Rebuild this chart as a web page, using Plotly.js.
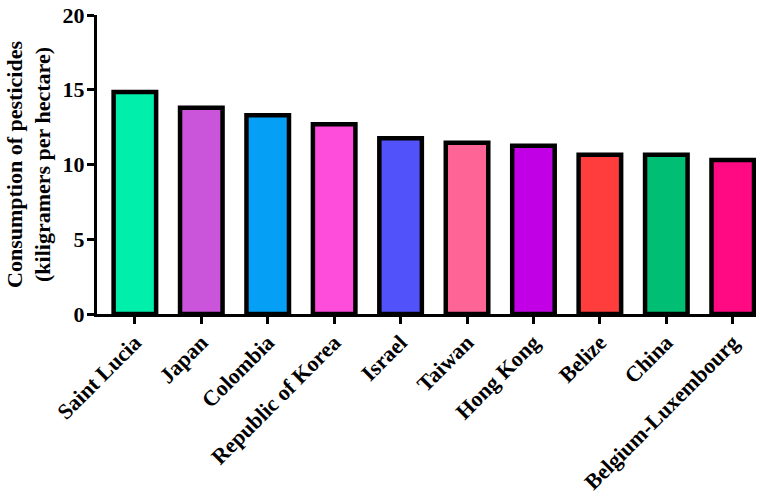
<!DOCTYPE html>
<html>
<head>
<meta charset="utf-8">
<script src="https://cdn.plot.ly/plotly-3.0.1.min.js"></script>
<style>
  html, body { margin: 0; padding: 0; background: #fff; }
  #chart { width: 776px; height: 498px; }
</style>
</head>
<body>
<div id="chart"></div>
<script>
const countries = [
  "Saint Lucia", "Japan", "Colombia", "Republic of Korea", "Israel",
  "Taiwan", "Hong Kong", "Belize", "China", "Belgium-Luxembourg",
];
const consumption = [14.85, 13.8, 13.3, 12.7, 11.75, 11.45, 11.25, 10.65, 10.65, 10.3];
const barColors = [
  "#00EFAA", "#CA55DA", "#05A0F6", "#FF4DDB", "#5252FA",
  "#FF6496", "#C100E6", "#FF3D3D", "#00BE73", "#FF0A82",
];
const yTicks = [0, 5, 10, 15, 20];

const FONT = "'Liberation Serif', 'Times New Roman', serif";

const trace = {
  type: "bar",
  x: countries,
  y: consumption,
  width: 0.64,
  marker: {
    color: barColors,
    line: { color: "#000", width: 4.5 },
  },
  hoverinfo: "skip",
};

const layout = {
  width: 776,
  height: 498,
  margin: { l: 97, r: 20, t: 15, b: 184 },
  paper_bgcolor: "#fff",
  plot_bgcolor: "#fff",
  showlegend: false,
  font: { family: FONT, color: "#000" },
  xaxis: {
    type: "category",
    range: [-0.57, 9.35],
    showline: true,
    linecolor: "#000",
    linewidth: 3,
    ticks: "outside",
    ticklen: 7,
    tickwidth: 3,
    tickcolor: "#000",
    tickangle: -45,
    ticklabelstandoff: -3,
    tickfont: { family: FONT, size: 22, color: "#000", weight: "bold" },
    showgrid: false,
    zeroline: false,
    automargin: false,
  },
  yaxis: {
    range: [0, 20],
    tickvals: yTicks,
    ticktext: yTicks.map(String),
    showline: true,
    linecolor: "#000",
    linewidth: 3,
    ticks: "outside",
    ticklen: 7,
    tickwidth: 3,
    tickcolor: "#000",
    ticklabelstandoff: -2,
    tickfont: { family: FONT, size: 22, color: "#000", weight: "bold" },
    showgrid: false,
    zeroline: false,
    automargin: false,
    title: {
      text: "Consumption of pesticides<br>(kiligramers per hectare)",
      font: { family: FONT, size: 22, color: "#000", weight: "bold" },
      standoff: 6,
    },
  },
};

Plotly.newPlot("chart", [trace], layout, { staticPlot: true, displayModeBar: false });
</script>
</body>
</html>
